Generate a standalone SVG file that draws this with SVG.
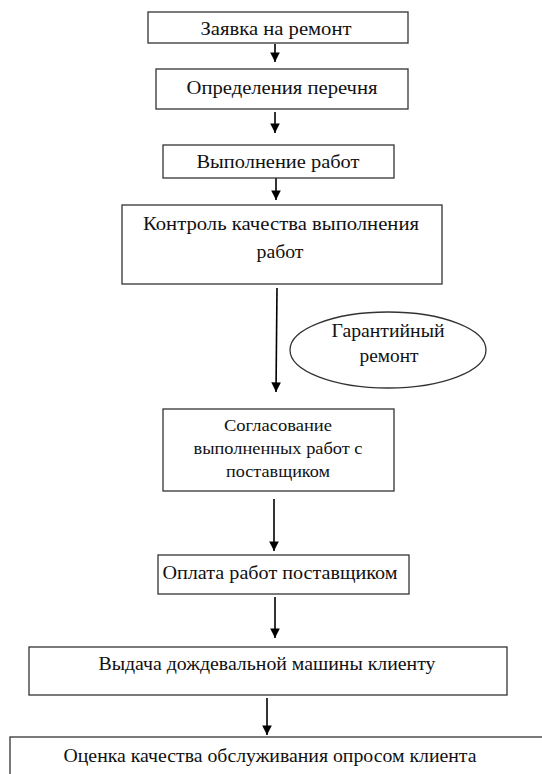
<svg xmlns="http://www.w3.org/2000/svg" width="542" height="774" viewBox="0 0 542 774">
<style>
.box{fill:#fff;stroke:#333;stroke-width:1.3}
.t{font-family:"Liberation Serif","Times New Roman",serif;font-size:19px;fill:#111;text-anchor:middle}
.s{font-size:17px}
.c{stroke:#000;stroke-width:1.6;fill:none}
</style>
<defs>
<marker id="ah" viewBox="0 0 10 10" refX="10" refY="5" markerWidth="6" markerHeight="6" orient="auto" markerUnits="strokeWidth">
<path d="M0,0 L10,5 L0,10 Z" fill="#000"/>
</marker>
</defs>
<rect width="542" height="774" fill="#fff"/>
<g id="connectors">
<line class="c" x1="275" y1="44" x2="275" y2="62" marker-end="url(#ah)"/>
<line class="c" x1="275" y1="112" x2="275" y2="133" marker-end="url(#ah)"/>
<line class="c" x1="276" y1="178" x2="276" y2="200" marker-end="url(#ah)"/>
<line class="c" x1="277" y1="288" x2="276" y2="392" marker-end="url(#ah)"/>
<line class="c" x1="274" y1="499" x2="274" y2="551" marker-end="url(#ah)"/>
<line class="c" x1="275" y1="597" x2="275" y2="638" marker-end="url(#ah)"/>
<line class="c" x1="267" y1="698" x2="267" y2="735" marker-end="url(#ah)"/>
</g>
<g id="n1"><rect class="box" x="148" y="12" width="260" height="31"/><text class="t" x="276" y="35" textLength="151" lengthAdjust="spacingAndGlyphs">Заявка на ремонт</text></g>
<g id="n2"><rect class="box" x="156" y="69" width="252" height="40"/><text class="t" x="282" y="94" textLength="191" lengthAdjust="spacingAndGlyphs">Определения перечня</text></g>
<g id="n3"><rect class="box" x="163" y="145" width="231" height="33"/><text class="t" x="278" y="168" textLength="163" lengthAdjust="spacingAndGlyphs">Выполнение работ</text></g>
<g id="n4"><rect class="box" x="122" y="205" width="320" height="79"/><text class="t" x="281" y="230" textLength="276" lengthAdjust="spacingAndGlyphs">Контроль качества выполнения</text><text class="t" x="280" y="258" textLength="47" lengthAdjust="spacingAndGlyphs">работ</text></g>
<g id="n5"><ellipse class="box" cx="388" cy="350" rx="98" ry="38"/><text class="t" x="388" y="337" textLength="113" lengthAdjust="spacingAndGlyphs">Гарантийный</text><text class="t" x="389" y="362" textLength="59" lengthAdjust="spacingAndGlyphs">ремонт</text></g>
<g id="n6"><rect class="box" x="163" y="409" width="231" height="82"/><text class="t s" x="278" y="431" textLength="108" lengthAdjust="spacingAndGlyphs">Согласование</text><text class="t s" x="278" y="454" textLength="169" lengthAdjust="spacingAndGlyphs">выполненных работ с</text><text class="t s" x="278" y="477" textLength="104" lengthAdjust="spacingAndGlyphs">поставщиком</text></g>
<g id="n7"><rect class="box" x="158" y="555" width="251" height="39"/><text class="t" x="280" y="579" textLength="235" lengthAdjust="spacingAndGlyphs">Оплата работ поставщиком</text></g>
<g id="n8"><rect class="box" x="29" y="647" width="478" height="48"/><text class="t" x="267" y="670" textLength="337" lengthAdjust="spacingAndGlyphs">Выдача дождевальной машины клиенту</text></g>
<g id="n9"><rect class="box" x="10" y="737" width="540" height="50"/><text class="t" x="270" y="762" textLength="413" lengthAdjust="spacingAndGlyphs">Оценка качества обслуживания опросом клиента</text></g>
</svg>
